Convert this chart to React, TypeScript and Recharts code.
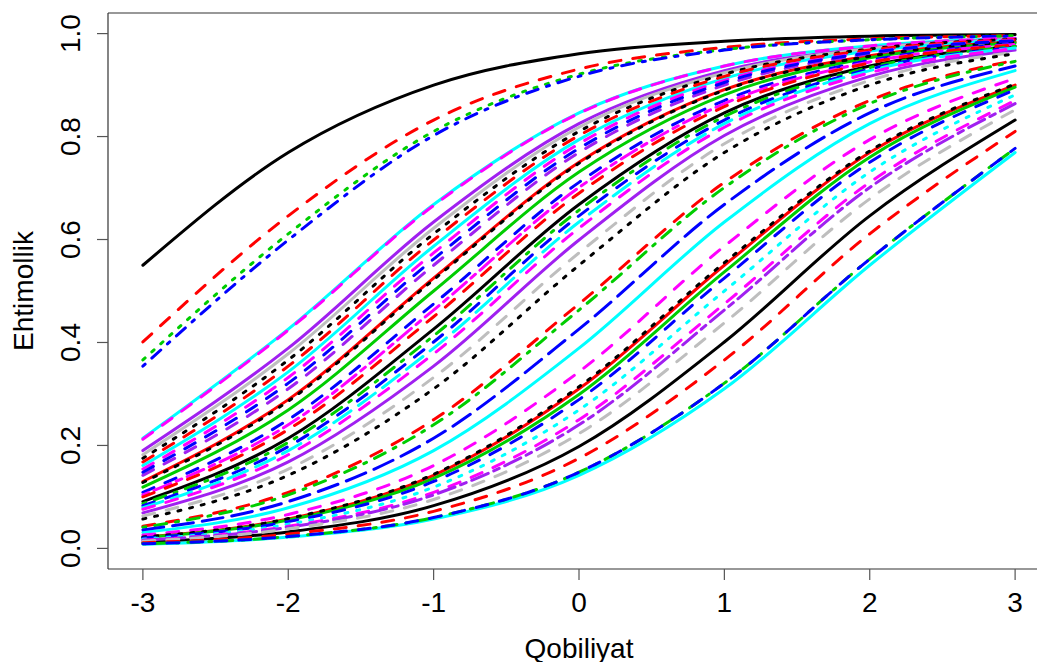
import React from 'react';
import { LineChart, Line, XAxis, YAxis, ReferenceLine, Label } from 'recharts';

// Ability grid (x axis)
const abilities = [-3, -2, -1, 0, 1, 2, 3];
const xTicks = [-3, -2, -1, 0, 1, 2, 3];
const yTicks = [0, 0.2, 0.4, 0.6, 0.8, 1.0];

// Item characteristic curves: probability at each ability value
const item01 = [0.550, 0.769, 0.900, 0.961, 0.985, 0.995, 0.998];
const item02 = [0.401, 0.646, 0.832, 0.931, 0.973, 0.990, 0.996];
const item03 = [0.366, 0.611, 0.810, 0.921, 0.969, 0.988, 0.996];
const item04 = [0.354, 0.599, 0.802, 0.917, 0.968, 0.988, 0.995];
const item05 = [0.214, 0.426, 0.668, 0.846, 0.937, 0.976, 0.991];
const item06 = [0.212, 0.424, 0.666, 0.845, 0.937, 0.976, 0.991];
const item07 = [0.190, 0.389, 0.634, 0.825, 0.928, 0.972, 0.990];
const item08 = [0.182, 0.378, 0.622, 0.818, 0.924, 0.971, 0.989];
const item09 = [0.175, 0.366, 0.611, 0.810, 0.921, 0.970, 0.989];
const item10 = [0.168, 0.354, 0.599, 0.802, 0.917, 0.968, 0.988];
const item11 = [0.161, 0.343, 0.587, 0.794, 0.913, 0.966, 0.988];
const item12 = [0.154, 0.332, 0.574, 0.786, 0.909, 0.964, 0.987];
const item13 = [0.142, 0.310, 0.550, 0.769, 0.900, 0.961, 0.985];
const item14 = [0.130, 0.289, 0.525, 0.750, 0.891, 0.957, 0.984];
const item15 = [0.128, 0.286, 0.522, 0.748, 0.890, 0.956, 0.984];
const item16 = [0.119, 0.269, 0.500, 0.731, 0.881, 0.953, 0.982];
const item17 = [0.109, 0.250, 0.475, 0.711, 0.870, 0.948, 0.980];
const item18 = [0.104, 0.240, 0.463, 0.701, 0.864, 0.945, 0.979];
const item19 = [0.148, 0.321, 0.562, 0.777, 0.905, 0.963, 0.986];
const item21 = [0.100, 0.231, 0.450, 0.690, 0.858, 0.943, 0.978];
const item22 = [0.091, 0.214, 0.426, 0.668, 0.846, 0.937, 0.976];
const item23 = [0.087, 0.206, 0.413, 0.657, 0.839, 0.934, 0.975];
const item24 = [0.083, 0.198, 0.401, 0.646, 0.832, 0.931, 0.973];
const item25 = [0.079, 0.190, 0.389, 0.634, 0.825, 0.928, 0.972];
const item26 = [0.076, 0.182, 0.378, 0.622, 0.818, 0.924, 0.971];
const item27 = [0.069, 0.168, 0.354, 0.599, 0.802, 0.917, 0.968];
const item28 = [0.063, 0.154, 0.332, 0.574, 0.786, 0.909, 0.964];
const item29 = [0.057, 0.142, 0.310, 0.550, 0.769, 0.900, 0.961];
const item30 = [0.043, 0.109, 0.250, 0.475, 0.711, 0.870, 0.948];
const item31 = [0.041, 0.104, 0.240, 0.463, 0.701, 0.864, 0.946];
const item32 = [0.036, 0.091, 0.214, 0.426, 0.668, 0.846, 0.937];
const item33 = [0.031, 0.079, 0.190, 0.389, 0.634, 0.825, 0.928];
const item34 = [0.026, 0.066, 0.161, 0.343, 0.587, 0.794, 0.913];
const item35 = [0.022, 0.057, 0.142, 0.310, 0.550, 0.769, 0.900];
const item36 = [0.022, 0.058, 0.144, 0.314, 0.555, 0.772, 0.902];
const item37 = [0.021, 0.055, 0.136, 0.299, 0.537, 0.760, 0.896];
const item38 = [0.020, 0.052, 0.130, 0.289, 0.525, 0.750, 0.891];
const item39 = [0.018, 0.047, 0.119, 0.269, 0.500, 0.731, 0.881];
const item40 = [0.016, 0.043, 0.109, 0.250, 0.475, 0.711, 0.870];
const item41 = [0.016, 0.041, 0.104, 0.240, 0.463, 0.701, 0.864];
const item42 = [0.014, 0.038, 0.095, 0.223, 0.438, 0.679, 0.852];
const item43 = [0.012, 0.032, 0.083, 0.198, 0.401, 0.646, 0.832];
const item44 = [0.011, 0.028, 0.072, 0.175, 0.366, 0.611, 0.810];
const item45 = [0.009, 0.023, 0.060, 0.148, 0.321, 0.562, 0.777];
const item46 = [0.009, 0.023, 0.060, 0.148, 0.321, 0.562, 0.777];
const item47 = [0.008, 0.022, 0.057, 0.142, 0.310, 0.550, 0.769];

const itemValues = [
  item01, item02, item03, item04, item05, item06, item07, item08, item09, item10,
  item11, item12, item13, item14, item15, item16, item17, item18, item19, item21,
  item22, item23, item24, item25, item26, item27, item28, item29, item30, item31,
  item32, item33, item34, item35, item36, item37, item38, item39, item40, item41,
  item42, item43, item44, item45, item46, item47,
];

// Styles (same order as itemValues)
const BLACK = '#000000', RED = '#FF0000', GREEN = '#00CD00', BLUE = '#0000FF',
  CYAN = '#00FFFF', MAGENTA = '#FF00FF', GRAY = '#BEBEBE', PURPLE = '#A020F0';

const LTY: Record<string, string | undefined> = {
  solid: undefined,
  dashed: '12 12',
  dotted: '3 9',
  dotdash: '3 9 12 9',
  longdash: '21 9',
  twodash: '6 6 18 6',
};

const itemStyles: { color: string; lty: string }[] = [
  { color: BLACK, lty: 'solid' },
  { color: RED, lty: 'dashed' },
  { color: GREEN, lty: 'dotted' },
  { color: BLUE, lty: 'dotdash' },
  { color: CYAN, lty: 'solid' },
  { color: MAGENTA, lty: 'dashed' },
  { color: PURPLE, lty: 'solid' },
  { color: GRAY, lty: 'solid' },
  { color: BLACK, lty: 'dotted' },
  { color: RED, lty: 'dashed' },
  { color: CYAN, lty: 'solid' },
  { color: MAGENTA, lty: 'dashed' },
  { color: PURPLE, lty: 'dashed' },
  { color: RED, lty: 'solid' },
  { color: BLACK, lty: 'dotted' },
  { color: GREEN, lty: 'solid' },
  { color: BLUE, lty: 'dashed' },
  { color: MAGENTA, lty: 'twodash' },
  { color: BLUE, lty: 'dashed' },
  { color: RED, lty: 'dashed' },
  { color: BLACK, lty: 'solid' },
  { color: GREEN, lty: 'dotdash' },
  { color: BLUE, lty: 'dashed' },
  { color: CYAN, lty: 'longdash' },
  { color: MAGENTA, lty: 'dashed' },
  { color: PURPLE, lty: 'solid' },
  { color: GRAY, lty: 'dashed' },
  { color: BLACK, lty: 'dotted' },
  { color: RED, lty: 'dashed' },
  { color: GREEN, lty: 'dotdash' },
  { color: BLUE, lty: 'longdash' },
  { color: CYAN, lty: 'solid' },
  { color: MAGENTA, lty: 'dashed' },
  { color: RED, lty: 'solid' },
  { color: BLACK, lty: 'dotted' },
  { color: GREEN, lty: 'solid' },
  { color: BLUE, lty: 'dashed' },
  { color: CYAN, lty: 'dotted' },
  { color: MAGENTA, lty: 'dashed' },
  { color: PURPLE, lty: 'twodash' },
  { color: GRAY, lty: 'dashed' },
  { color: BLACK, lty: 'solid' },
  { color: RED, lty: 'dashed' },
  { color: GREEN, lty: 'dotdash' },
  { color: BLUE, lty: 'dashed' },
  { color: CYAN, lty: 'solid' },
];

const keys = itemValues.map((_, i) => `it${i + 1}`);

const data = abilities.map((theta, j) => {
  const row: Record<string, number> = { theta };
  itemValues.forEach((vals, i) => {
    row[keys[i]] = vals[j];
  });
  return row;
});

// solids are drawn first, broken line types on top
const drawOrder = keys
  .map((k, i) => i)
  .sort((a, b) => {
    const sa = itemStyles[a].lty === 'solid' ? 0 : 1;
    const sb = itemStyles[b].lty === 'solid' ? 0 : 1;
    return sa - sb || a - b;
  });

const FONT = '"Liberation Sans", Arial, Helvetica, sans-serif';

const YTick = (props: any) => {
  const { x, y, payload } = props;
  return (
    <text
      x={x}
      y={y}
      transform={`rotate(-90 ${x} ${y})`}
      textAnchor="middle"
      fontSize={28}
      fontFamily={FONT}
      fill="#000"
    >
      {Number(payload.value).toFixed(1)}
    </text>
  );
};

const XTitle = (props: any) => {
  const vb = props.viewBox || { x: 108, y: 569, width: 942, height: 93 };
  return (
    <text
      x={vb.x + vb.width / 2}
      y={vb.y + 89}
      textAnchor="middle"
      fontSize={28}
      fontFamily={FONT}
      fill="#000"
    >
      Qobiliyat
    </text>
  );
};

const YTitle = (props: any) => {
  const vb = props.viewBox || { x: 0, y: 13, width: 108, height: 556 };
  const cx = vb.x + 33;
  const cy = vb.y + vb.height / 2;
  return (
    <text
      x={cx}
      y={cy}
      transform={`rotate(-90 ${cx} ${cy})`}
      textAnchor="middle"
      fontSize={28}
      fontFamily={FONT}
      fill="#000"
    >
      Ehtimollik
    </text>
  );
};

export default function App() {
  return (
    <div style={{ position: 'absolute', left: 0, top: 0, width: 1037, height: 662, overflow: 'hidden', background: '#fff' }}>
      <style>{'body{margin:0;}'}</style>
      <LineChart
        width={1051}
        height={662}
        data={data}
        margin={{ top: 13, right: 1, left: 0, bottom: 0 }}
      >
        <XAxis
          type="number"
          dataKey="theta"
          domain={[-3.24, 3.24]}
          ticks={xTicks}
          allowDataOverflow
          height={93}
          tickSize={11}
          tickMargin={12}
          axisLine={{ stroke: '#333', strokeWidth: 1.2 }}
          tickLine={{ stroke: '#555', strokeWidth: 1.2 }}
          tick={{ fontSize: 28, fill: '#000', fontFamily: FONT }}
          interval={0}
        >
          <Label content={XTitle} />
        </XAxis>
        <YAxis
          type="number"
          domain={[-0.04, 1.04]}
          ticks={yTicks}
          allowDataOverflow
          width={108}
          tickSize={11}
          tickMargin={17}
          axisLine={{ stroke: '#333', strokeWidth: 1.2 }}
          tickLine={{ stroke: '#555', strokeWidth: 1.2 }}
          tick={<YTick />}
          interval={0}
        >
          <Label content={YTitle} />
        </YAxis>
        <ReferenceLine y={1.04} stroke="#333" strokeWidth={1.2} />
        {drawOrder.map((i) => (
          <Line
            key={keys[i]}
            dataKey={keys[i]}
            type="monotone"
            stroke={itemStyles[i].color}
            strokeWidth={3}
            strokeDasharray={LTY[itemStyles[i].lty]}
            strokeLinecap="round"
            strokeLinejoin="round"
            dot={false}
            activeDot={false}
            isAnimationActive={false}
          />
        ))}
      </LineChart>
    </div>
  );
}
